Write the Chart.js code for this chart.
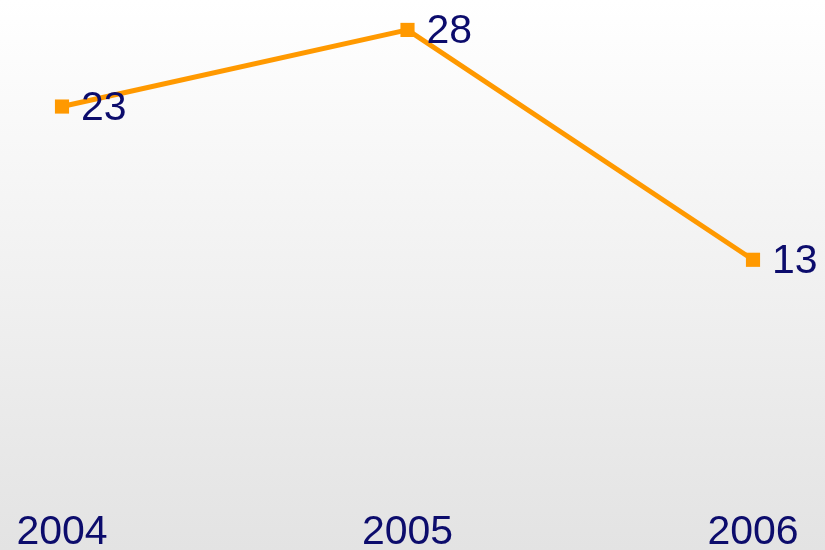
<!DOCTYPE html>
<html>
<head>
<meta charset="utf-8">
<script src="https://cdn.jsdelivr.net/npm/chart.js@4"></script>
<style>
	html, body { margin: 0; padding: 0; background: #fff; }
	#wrap { width: 825px; height: 550px; }
</style>
</head>
<body>
<div id="wrap"><canvas id="chart1" width="825" height="550"></canvas></div>
<script>
var years = ['2004', '2005', '2006'];
var values = [23, 28, 13];

var navy = '#0c0c6c';
var orange = '#ff9900';

// gradient backdrop behind the whole canvas
var bgPlugin = {
	id: 'bg',
	beforeDraw: function(chart) {
		var c = chart.ctx;
		var g = c.createLinearGradient(0, 0, 0, chart.height);
		g.addColorStop(0, '#ffffff');
		g.addColorStop(1, '#e3e3e3');
		c.save();
		c.fillStyle = g;
		c.fillRect(0, 0, chart.width, chart.height);
		c.restore();
	}
};

// value labels to the right of each point
var labelPlugin = {
	id: 'valueLabels',
	afterDatasetsDraw: function(chart) {
		var c = chart.ctx;
		var meta = chart.getDatasetMeta(0);
		c.save();
		c.font = '41px "Liberation Sans", Arial, sans-serif';
		c.fillStyle = navy;
		c.textAlign = 'left';
		c.textBaseline = 'middle';
		meta.data.forEach(function(pt, i) {
			c.fillText(String(values[i]), pt.x + 19, pt.y + 2);
		});
		c.restore();
	}
};

var ctx = document.getElementById('chart1').getContext('2d');
var chart1 = new Chart(ctx, {
	type: 'line',
	data: {
		labels: years,
		datasets: [{
			data: values,
			borderColor: orange,
			backgroundColor: orange,
			borderWidth: 5,
			pointStyle: 'rect',
			pointRadius: 10,
			pointBorderWidth: 0,
			pointBackgroundColor: orange,
			tension: 0,
			clip: false
		}]
	},
	options: {
		responsive: false,
		animation: false,
		layout: { padding: { left: 62, right: 72, top: 0, bottom: -56 } },
		plugins: { legend: { display: false }, tooltip: { enabled: false } },
		scales: {
			x: {
				offset: false,
				grid: { display: false, drawTicks: false },
				border: { display: false },
				afterFit: function(scale) {
					scale.paddingLeft = 0;
					scale.paddingRight = 0;
				},
				ticks: {
					color: navy,
					padding: 53,
					maxRotation: 0,
					font: { family: '"Liberation Sans", Arial, sans-serif', size: 41, lineHeight: 1 }
				}
			},
			y: {
				display: false,
				min: 0,
				max: 29.3
			}
		}
	},
	plugins: [bgPlugin, labelPlugin]
});
</script>
</body>
</html>
